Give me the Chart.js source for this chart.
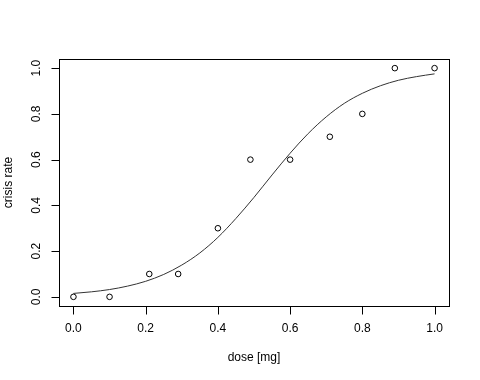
<!DOCTYPE html>
<html>
<head>
<meta charset="utf-8">
<script src="https://cdn.jsdelivr.net/npm/chart.js@4/dist/chart.umd.min.js"></script>
<style>
html,body{margin:0;padding:0;background:#fff;}
#wrap{width:480px;height:380px;}
</style>
</head>
<body>
<div id="wrap"><canvas id="c" width="480" height="380"></canvas></div>
<script>
// observed data
const dose = [0.0, 0.10, 0.21, 0.29, 0.40, 0.49, 0.60, 0.71, 0.80, 0.89, 1.00];
const crisisRate = [0.0, 0.0, 0.1, 0.1, 0.3, 0.6, 0.6, 0.7, 0.8, 1.0, 1.0];
// fitted curve
const curveX = [0, 0.05, 0.10, 0.15, 0.20, 0.25, 0.30, 0.35, 0.40, 0.45, 0.50, 0.55, 0.60, 0.65, 0.70, 0.75, 0.80, 0.85, 0.90, 0.95, 1.00];
const curveY = [0.015, 0.022, 0.032, 0.047, 0.068, 0.098, 0.139, 0.192, 0.260, 0.343, 0.435, 0.533, 0.628, 0.714, 0.787, 0.846, 0.890, 0.923, 0.947, 0.963, 0.975];
// tick labels
const xTicks = [0.0, 0.2, 0.4, 0.6, 0.8, 1.0];
const yTicks = [0.0, 0.2, 0.4, 0.6, 0.8, 1.0];
const xTickLabels = ["0.0", "0.2", "0.4", "0.6", "0.8", "1.0"];
const yTickLabels = ["0.0", "0.2", "0.4", "0.6", "0.8", "1.0"];
const xTitle = "dose [mg]";
const yTitle = "crisis rate";

const FONT = '12px "Liberation Sans", Arial, Helvetica, sans-serif';

const rAxes = {
  id: 'rAxes',
  afterDraw(chart) {
    const ctx = chart.ctx;
    const a = chart.chartArea;
    const xs = chart.scales.x, ys = chart.scales.y;
    ctx.save();
    ctx.strokeStyle = '#000';
    ctx.lineWidth = 1;
    // box
    ctx.strokeRect(Math.round(a.left) + 0.5, Math.round(a.top) + 0.5, Math.round(a.right - a.left), Math.round(a.bottom - a.top));
    ctx.fillStyle = '#000';
    ctx.font = FONT;
    // x axis
    const by = Math.round(a.bottom) + 0.5;
    ctx.beginPath();
    ctx.moveTo(Math.round(xs.getPixelForValue(xTicks[0])) + 0.5, by);
    ctx.lineTo(Math.round(xs.getPixelForValue(xTicks[xTicks.length - 1])) + 0.5, by);
    xTicks.forEach(v => {
      const px = Math.round(xs.getPixelForValue(v)) + 0.5;
      ctx.moveTo(px, by);
      ctx.lineTo(px, by + 8);
    });
    ctx.stroke();
    ctx.textAlign = 'center';
    ctx.textBaseline = 'middle';
    xTicks.forEach((v, i) => {
      ctx.fillText(xTickLabels[i], xs.getPixelForValue(v), a.bottom + 23);
    });
    ctx.fillText(xTitle, (a.left + a.right) / 2, a.bottom + 52);
    // y axis
    const lx = Math.round(a.left) + 0.5;
    ctx.beginPath();
    ctx.moveTo(lx, Math.round(ys.getPixelForValue(yTicks[0])) + 0.5);
    ctx.lineTo(lx, Math.round(ys.getPixelForValue(yTicks[yTicks.length - 1])) + 0.5);
    yTicks.forEach(v => {
      const py = Math.round(ys.getPixelForValue(v)) + 0.5;
      ctx.moveTo(lx, py);
      ctx.lineTo(lx - 8, py);
    });
    ctx.stroke();
    yTicks.forEach((v, i) => {
      ctx.save();
      ctx.translate(a.left - 22, ys.getPixelForValue(v));
      ctx.rotate(-Math.PI / 2);
      ctx.fillText(yTickLabels[i], 0, 0);
      ctx.restore();
    });
    ctx.save();
    ctx.translate(a.left - 50, (a.top + a.bottom) / 2);
    ctx.rotate(-Math.PI / 2);
    ctx.fillText(yTitle, 0, 0);
    ctx.restore();
    ctx.restore();
  }
};

new Chart(document.getElementById('c'), {
  type: 'scatter',
  data: {
    datasets: [
      {
        label: 'fit',
        data: curveX.map((x, i) => ({x: x, y: curveY[i]})),
        showLine: true,
        borderColor: '#333',
        borderWidth: 1,
        pointRadius: 0,
        cubicInterpolationMode: 'monotone',
        fill: false,
        order: 2
      },
      {
        label: 'observed',
        data: dose.map((x, i) => ({x: x, y: crisisRate[i]})),
        showLine: false,
        pointRadius: 2.8,
        pointBorderWidth: 1,
        pointBorderColor: '#000',
        pointBackgroundColor: 'rgba(255,255,255,0)',
        order: 1
      }
    ]
  },
  options: {
    responsive: false,
    animation: false,
    devicePixelRatio: 1,
    layout: { padding: { left: 59, right: 31, top: 59, bottom: 74 } },
    plugins: { legend: { display: false }, tooltip: { enabled: false } },
    scales: {
      x: { type: 'linear', min: -0.04, max: 1.04, display: false },
      y: { type: 'linear', min: -0.04, max: 1.04, display: false }
    }
  },
  plugins: [rAxes]
});
</script>
</body>
</html>
